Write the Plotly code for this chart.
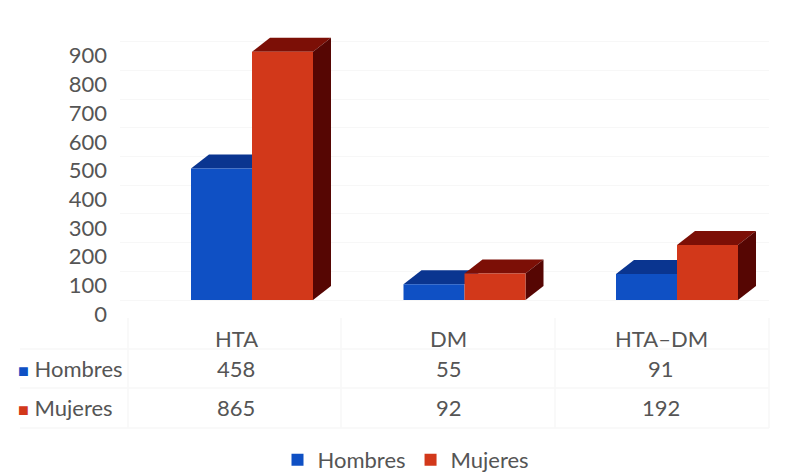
import plotly.graph_objects as go

categories = ["HTA", "DM", "HTA–DM"]
hombres = [458, 55, 91]
mujeres = [865, 92, 192]
y_ticks = [0, 100, 200, 300, 400, 500, 600, 700, 800, 900]

PAGE = 8              # the browser's body margin
W, H = 799 - PAGE, 473 - PAGE
L, R, T, B = 120 - PAGE, 30, 0, 473 - 318
PX_X = 212.5          # pixels per category
PX_Y = 0.287          # pixels per value
X0, Y0 = 252 - PAGE, 300 - PAGE     # pixel of category 0 centre, and of value 0
DX, DY = 18 / PX_X, 14 / PX_Y
BAR = 61 / PX_X

TEXT = "#555555"
FONT = "Lato"
SIZE = 22
BLUE, BLUE_TOP = "#0f50c4", "#0a3590"
RED, RED_TOP, RED_SIDE = "#d2381a", "#7c0f06", "#560603"

fig = go.Figure()
positions = list(range(len(categories)))
fig.add_bar(name="Hombres", x=positions, y=hombres, marker=dict(color=BLUE, line_width=0))
fig.add_bar(name="Mujeres", x=positions, y=mujeres, marker=dict(color=RED, line_width=0))


def poly(pts, color):
    path = "M " + " L ".join(f"{a} {b}" for a, b in pts) + " Z"
    fig.add_shape(type="path", path=path, fillcolor=color, line_width=0,
                  xref="x", yref="y", layer="between")


for i in positions:
    poly([(i - BAR, hombres[i]), (i, hombres[i]), (i + DX, hombres[i] + DY),
          (i - BAR + DX, hombres[i] + DY)], BLUE_TOP)
    poly([(i, mujeres[i]), (i + BAR, mujeres[i]), (i + BAR + DX, mujeres[i] + DY),
          (i + DX, mujeres[i] + DY)], RED_TOP)
    poly([(i + BAR, 0), (i + BAR + DX, DY), (i + BAR + DX, mujeres[i] + DY),
          (i + BAR, mujeres[i])], RED_SIDE)


def fx(x):
    """Page pixel to paper x."""
    return (x - PAGE - L) / (W - L - R)


def fy(y):
    """Page pixel to paper y."""
    return (H - B - (y - PAGE)) / (H - T - B)


GRID = "#f7f7f7"
for y in (349, 388, 428):
    fig.add_shape(type="line", xref="paper", yref="paper", x0=fx(20), x1=fx(769), y0=fy(y), y1=fy(y),
                  line=dict(color=GRID, width=1.5), layer="below")
for x in (128, 341, 555, 769):
    fig.add_shape(type="line", xref="paper", yref="paper", x0=fx(x), x1=fx(x), y0=fy(318), y1=fy(428),
                  line=dict(color=GRID, width=1.5), layer="below")

for i, cat in enumerate(categories):
    for y, txt in ((338, cat), (368, hombres[i]), (407, mujeres[i])):
        fig.add_annotation(x=i, xref="x", xshift=-16, y=fy(y), yref="paper", yanchor="middle",
                           text=str(txt), showarrow=False,
                           font=dict(family=FONT, size=SIZE, color=TEXT))

for y, name, color in ((368, "Hombres", BLUE), (407, "Mujeres", RED)):
    fig.add_annotation(x=fx(16), xref="paper", xanchor="left", y=fy(y), yref="paper", yanchor="middle",
                       text=f'<span style="color:{color};font-size:18px">■</span> {name}',
                       showarrow=False, font=dict(family=FONT, size=SIZE, color=TEXT))

xmin = (L - X0) / PX_X
xmax = (W - R - X0) / PX_X
ymin = (Y0 - (H - B)) / PX_Y
ymax = (Y0 - T) / PX_Y

fig.update_layout(
    width=W, height=H, autosize=False,
    margin=dict(l=L, r=R, t=T, b=B, autoexpand=False),
    paper_bgcolor="white", plot_bgcolor="white",
    barmode="group", bargap=1 - 2 * BAR, bargroupgap=0,
    font=dict(family=FONT, size=SIZE, color=TEXT),
    showlegend=True,
    legend=dict(orientation="h", xanchor="center", x=fx(406),
                yanchor="middle", y=fy(460), font=dict(size=SIZE),
                itemwidth=30, bgcolor="rgba(0,0,0,0)"),
    xaxis=dict(range=[xmin, xmax], showticklabels=False, showgrid=False, zeroline=False,
               showline=False, ticks=""),
    yaxis=dict(range=[ymin, ymax], tickvals=y_ticks, ticklabelshift=14, showline=False,
               gridcolor=GRID, zeroline=False, ticks="", ticklen=0, ticklabelstandoff=12),
)
fig.write_html("out.html")
